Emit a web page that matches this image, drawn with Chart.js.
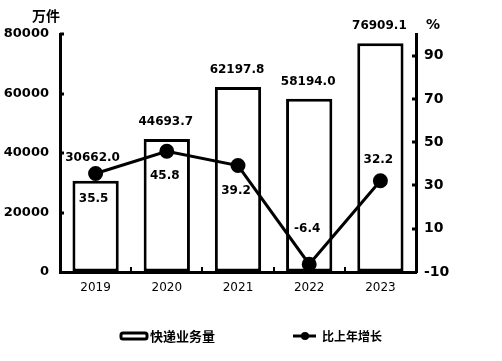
<!doctype html>
<html lang="zh">
<head>
<meta charset="utf-8" />
<title>快递业务量</title>
<style>
  html, body { margin: 0; padding: 0; background: #fff; }
  #express { display: block; }
</style>
</head>
<body>
<canvas id="express" width="502" height="361"></canvas>
<script src="https://cdn.jsdelivr.net/npm/chart.js@4.4.1/dist/chart.umd.min.js"></script>
<script>
const years = ["2019", "2020", "2021", "2022", "2023"];
const volume = [30662.0, 44693.7, 62197.8, 58194.0, 76909.1];
const growth = [35.5, 45.8, 39.2, -6.4, 32.2];
const volumeTicks = [0, 20000, 40000, 60000, 80000];
const growthTicks = [-10, 10, 30, 50, 70, 90];

const NUM_FONT = "'DejaVu Sans', sans-serif";
const CJK_FONT = "'Noto Sans CJK SC', sans-serif";

// label offsets for the growth points (positive = below the point)
const growthLabelDy = [25, 25, 25, -35, -21];

const annotate = {
  id: "annotate",
  afterDraw(chart) {
    const ctx = chart.ctx;
    const area = chart.chartArea;
    const bars = chart.getDatasetMeta(0).data;
    const points = chart.getDatasetMeta(1).data;
    const x = chart.scales.x, y = chart.scales.y, y1 = chart.scales.y1;

    ctx.save();
    ctx.fillStyle = "#000";
    ctx.strokeStyle = "#000";

    // inner tick stubs
    ctx.lineWidth = 3;
    ctx.beginPath();
    volumeTicks.slice(1).forEach((v) => {
      const py = Math.round(y.getPixelForValue(v));
      ctx.moveTo(area.left, py);
      ctx.lineTo(area.left + 4, py);
    });
    growthTicks.slice(1).forEach((v) => {
      const py = Math.round(y1.getPixelForValue(v));
      ctx.moveTo(area.right - 4, py);
      ctx.lineTo(area.right, py);
    });
    ctx.stroke();
    ctx.lineWidth = 2;
    ctx.beginPath();
    for (let i = 0; i < years.length - 1; i++) {
      const px = Math.round((x.getPixelForValue(i) + x.getPixelForValue(i + 1)) / 2);
      ctx.moveTo(px, area.bottom);
      ctx.lineTo(px, area.bottom - 5);
    }
    ctx.stroke();

    // value labels
    ctx.textAlign = "center";
    ctx.textBaseline = "middle";
    ctx.font = "bold 12px " + NUM_FONT;
    bars.forEach((bar, i) => {
      const p = points[i];
      if (p.y < bar.y) {
        ctx.fillText(volume[i].toFixed(1), bar.x - 3, p.y - 16);
      } else {
        ctx.fillText(volume[i].toFixed(1), bar.x - 1, bar.y - 17);
      }
    });
    points.forEach((p, i) => {
      ctx.fillText(growth[i].toFixed(1), p.x - 2, p.y + growthLabelDy[i]);
    });

    // axis units
    ctx.font = "bold 14px " + CJK_FONT;
    ctx.fillText("万件", 46, 16);
    ctx.font = "bold 14px " + NUM_FONT;
    ctx.fillText("%", 433, 25);

    // legend
    ctx.lineWidth = 3;
    ctx.beginPath();
    ctx.roundRect(121, 333, 26, 6, 2);
    ctx.stroke();
    ctx.beginPath();
    ctx.moveTo(293, 336);
    ctx.lineTo(316, 336);
    ctx.stroke();
    ctx.beginPath();
    ctx.arc(305, 336, 4, 0, Math.PI * 2);
    ctx.fill();
    ctx.textAlign = "left";
    ctx.font = "bold 13px " + CJK_FONT;
    ctx.fillText("快递业务量", 150, 336);
    ctx.font = "bold 12px " + CJK_FONT;
    ctx.fillText("比上年增长", 322, 336);
    ctx.restore();
  },
};

new Chart(document.getElementById("express"), {
  data: {
    labels: years,
    datasets: [
      {
        type: "bar",
        label: "快递业务量",
        data: volume,
        yAxisID: "y",
        backgroundColor: "#fff",
        borderColor: "#000",
        borderWidth: 3,
        borderSkipped: false,
        barPercentage: 0.65,
        categoryPercentage: 1,
        order: 1,
      },
      {
        type: "line",
        label: "比上年增长",
        data: growth,
        yAxisID: "y1",
        borderColor: "#000",
        borderWidth: 3,
        pointRadius: 6,
        pointBackgroundColor: "#000",
        pointBorderColor: "#000",
        tension: 0,
        order: 0,
      },
    ],
  },
  options: {
    responsive: false,
    animation: false,
    layout: { padding: { top: 34, left: 0, right: 0, bottom: 0 } },
    plugins: {
      legend: { display: false },
      tooltip: { enabled: false },
    },
    scales: {
      x: {
        grid: { display: true, drawOnChartArea: false, drawTicks: false },
        border: { display: true, color: "#000", width: 3 },
        ticks: { color: "#000", font: { family: NUM_FONT, size: 12 }, padding: 9 },
        afterFit(s) { s.height = 89; },
      },
      y: {
        position: "left",
        min: 0,
        max: 80000,
        grid: { display: true, drawOnChartArea: false, drawTicks: false },
        border: { display: true, color: "#000", width: 3 },
        ticks: {
          color: "#000",
          font: { family: NUM_FONT, size: 13, weight: "bold" },
          padding: 11,
          callback: (v) => String(v),
        },
        afterBuildTicks(s) { s.ticks = volumeTicks.map((v) => ({ value: v })); },
        afterFit(s) { s.width = 60; },
      },
      y1: {
        position: "right",
        min: -10,
        max: 100,
        grid: { display: true, drawOnChartArea: false, drawTicks: false },
        border: { display: true, color: "#000", width: 3 },
        ticks: {
          color: "#000",
          font: { family: NUM_FONT, size: 14, weight: "bold" },
          padding: 8,
          callback: (v) => String(v),
        },
        afterBuildTicks(s) { s.ticks = growthTicks.map((v) => ({ value: v })); },
        afterFit(s) { s.width = 86; },
      },
    },
  },
  plugins: [annotate],
});
</script>
</body>
</html>
